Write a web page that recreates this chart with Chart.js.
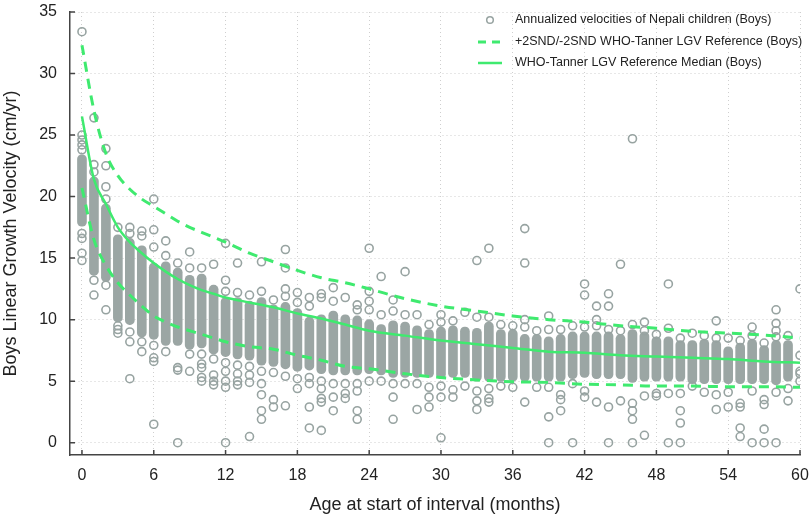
<!DOCTYPE html>
<html>
<head>
<meta charset="utf-8">
<script src="https://cdn.jsdelivr.net/npm/chart.js@4.4.1/dist/chart.umd.min.js"></script>
<style>
  html, body { margin: 0; padding: 0; background: #fff; }
  #wrap { width: 812px; height: 517px; }
</style>
</head>
<body>
<div id="wrap"><canvas id="growthChart"></canvas></div>
<script>
// DATA ---------------------------------------------------------------------
const months = [];
for (let m = 0; m <= 60; m++) months.push(m);

// dense part of each month's column (cm/yr)
const coreLow = [17.6, 13.6, 13.1, 9.8, 9.6, 8.6, 8.4, 7.9, 7.9, 7.6,
    7.7, 7.2, 7.0, 6.8, 6.7, 6.3, 6.2, 6.0, 5.8, 5.9,
    5.6, 5.5, 5.5, 5.5, 5.6, 5.5, 5.3, 5.3, 5.3, 5.3,
    5.2, 5.3, 5.3, 5.0, 5.0, 5.0, 5.0, 5.0, 5.0, 5.0,
    5.0, 5.2, 5.3, 5.2, 5.2, 5.2, 4.9, 5.0, 5.0, 5.0,
    5.0, 4.8, 4.8, 4.8, 4.8, 4.8, 4.8, 4.8, 4.7, 5.0, null];
const coreHigh = [23.4, 21.6, 19.4, 16.9, 16.6, 16.0, 14.6, 14.7, 14.2, 13.6,
    13.7, 12.8, 11.8, 11.8, 11.5, 11.8, 11.2, 11.4, 10.9, 10.2,
    10.4, 10.7, 10.4, 10.3, 10.0, 9.6, 9.9, 9.8, 9.5, 9.2,
    9.4, 9.5, 9.4, 9.3, 9.8, 9.2, 9.2, 8.8, 8.8, 8.6,
    8.8, 9.0, 9.0, 9.0, 9.0, 8.8, 9.2, 9.0, 8.6, 8.6,
    8.3, 8.3, 8.4, 8.3, 7.8, 8.1, 8.4, 7.9, 8.3, 8.3, null];

// single circles outside the dense part, one list per month
const outliers = [
    [33.4, 25.0, 24.6, 24.2, 23.8, 17.0, 16.6, 15.4, 14.8],
    [26.4, 22.6, 22.0, 13.2, 12.0],
    [23.9, 22.5, 20.8, 19.8, 12.8, 10.8],
    [17.5, 9.5, 9.2, 8.9],
    [17.5, 17.0, 9.0, 8.2, 5.2],
    [17.2, 16.8, 8.2, 7.4],
    [19.8, 17.3, 15.9, 7.9, 6.9, 6.6, 1.5],
    [16.4, 15.2, 7.4],
    [14.6, 6.1, 5.9, 0.0],
    [15.5, 14.2, 7.2, 5.8],
    [14.2, 7.2, 6.4, 6.1, 5.3, 5.0],
    [14.5, 6.8, 5.5, 5.0, 4.7],
    [16.2, 13.2, 12.3, 6.5, 5.8, 5.0, 4.5, 0.0],
    [14.6, 12.2, 6.3, 5.6, 5.0, 4.7],
    [12.0, 6.2, 5.5, 4.9, 0.5],
    [14.7, 12.3, 5.8, 4.8, 3.9, 2.6, 1.9],
    [11.6, 5.7, 3.5, 2.9],
    [15.7, 14.2, 12.5, 11.9, 5.4, 3.0],
    [12.2, 11.4, 5.2, 4.4],
    [11.8, 11.1, 5.3, 4.8, 2.9, 1.2],
    [12.1, 11.8, 5.0, 4.4, 3.6, 3.3, 1.0],
    [12.6, 11.5, 4.8, 3.7, 2.6],
    [11.8, 4.8, 4.0, 3.6],
    [11.2, 10.8, 4.8, 4.2, 2.6, 1.9],
    [15.8, 12.3, 11.5, 10.8, 5.0],
    [13.5, 10.4, 5.0],
    [11.6, 10.7, 4.8, 3.7, 1.9],
    [13.9, 10.4, 4.8],
    [10.4, 4.8, 2.7],
    [9.6, 4.5, 3.7, 2.9],
    [10.4, 9.8, 4.6, 3.7, 0.4],
    [9.9, 4.3, 3.7],
    [10.6, 4.6],
    [14.8, 10.2, 4.2, 3.4, 2.7],
    [15.8, 10.2, 4.4, 3.6, 3.3],
    [9.6, 4.6],
    [9.5, 4.5],
    [17.4, 14.6, 10.0, 9.4, 3.3],
    [9.1, 4.5],
    [10.3, 9.2, 4.5, 2.1, 0.0],
    [9.2, 3.9, 3.5, 2.6],
    [9.5, 4.8, 0.0],
    [12.9, 12.0, 9.4, 4.2, 3.7],
    [11.1, 10.0, 9.5, 3.3],
    [12.1, 11.1, 9.2, 2.9, 0.0],
    [14.5, 9.1, 3.4],
    [24.7, 9.6, 3.2, 2.6, 1.9, 0.0],
    [9.8, 9.1, 3.8, 0.6],
    [8.8, 4.0, 3.8],
    [12.9, 9.3, 4.0, 0.0],
    [8.5, 4.0, 2.6, 1.6, 0.0],
    [8.9, 4.6],
    [8.7, 4.1],
    [9.9, 8.5, 3.9, 2.7],
    [8.5, 4.1, 2.9],
    [8.3, 3.2, 2.9, 1.2, 0.5],
    [9.4, 8.7, 4.2, 0.0],
    [8.1, 3.5, 3.1, 1.1, 0.0],
    [10.8, 9.7, 9.1, 8.6, 4.1, 0.0],
    [8.7, 4.4, 3.4],
    [12.5, 7.1, 5.8, 5.6, 5.0]
];

// WHO-Tanner reference curves
const refMonths = [0, 1, 2, 3, 4, 5, 6, 7, 8, 9, 10, 11, 12, 14, 16, 18, 20, 22, 24, 27, 30, 33, 36, 39, 42, 45, 48, 51, 54, 57, 60];
const refMedian = [26.5, 21.4, 19.4, 17.5, 16.3, 15.4, 14.6, 13.9, 13.3, 12.8, 12.4, 12.1, 11.8, 11.4, 11.0, 10.5, 10.1, 9.6, 9.1, 8.7, 8.3, 8.0, 7.7, 7.4, 7.3, 7.1, 7.0, 6.9, 6.8, 6.6, 6.5];
const refUpper = [32.3, 27.0, 23.5, 21.7, 20.6, 19.8, 19.2, 18.6, 18.0, 17.5, 17.1, 16.7, 16.3, 15.4, 14.7, 14.0, 13.4, 13.0, 12.5, 11.7, 11.1, 10.7, 10.3, 10.0, 9.8, 9.5, 9.3, 9.05, 8.9, 8.75, 8.5];
const refLower = [20.7, 16.5, 14.4, 13.0, 12.0, 11.1, 10.3, 9.8, 9.4, 9.1, 8.8, 8.5, 8.2, 7.8, 7.6, 7.1, 6.7, 6.2, 6.0, 5.6, 5.3, 5.1, 4.95, 4.9, 4.75, 4.7, 4.6, 4.6, 4.55, 4.55, 4.5];

const legendLabels = [
    "Annualized velocities of Nepali children (Boys)",
    "+2SND/-2SND WHO-Tanner LGV Reference (Boys)",
    "WHO-Tanner LGV Reference Median (Boys)"
];

// STYLE --------------------------------------------------------------------
const green = '#3fea6f';
const grey = '#97a3a1';
const axisColor = '#444';
const fontFamily = "'Liberation Sans', Arial, sans-serif";

// build datasets from the arrays
const scatterPts = [];
outliers.forEach((vals, m) => vals.forEach(v => scatterPts.push({ x: months[m], y: v })));
const corePts = [];
months.forEach((m, i) => {
    if (coreLow[i] !== null) corePts.push({ x: m, y: [coreLow[i], coreHigh[i]] });
});
const toXY = arr => refMonths.map((m, i) => ({ x: m, y: arr[i] }));

// inward tick marks ---------------------------------------------------------
const inwardTicks = {
    id: 'inwardTicks',
    afterDraw(chart) {
        const { ctx, chartArea, scales: { x, y } } = chart;
        ctx.save();
        ctx.strokeStyle = axisColor;
        ctx.lineWidth = 1.5;
        ctx.beginPath();
        x.ticks.forEach(t => {
            const px = x.getPixelForValue(t.value);
            ctx.moveTo(px, chartArea.bottom);
            ctx.lineTo(px, chartArea.bottom - 5);
        });
        y.ticks.forEach(t => {
            const py = y.getPixelForValue(t.value);
            ctx.moveTo(chartArea.left, py);
            ctx.lineTo(chartArea.left + 5, py);
        });
        ctx.stroke();
        ctx.restore();
    }
};

// legend inside the plot, top right ------------------------------------------
const insideLegend = {
    id: 'insideLegend',
    afterDraw(chart) {
        const { ctx, chartArea } = chart;
        const symX = chartArea.right - 310;
        const textX = chartArea.right - 285;
        const rows = [chartArea.top + 8, chartArea.top + 30, chartArea.top + 51];
        ctx.save();
        // circle
        ctx.strokeStyle = grey;
        ctx.lineWidth = 1.5;
        ctx.beginPath();
        ctx.arc(symX, rows[0], 3.3, 0, Math.PI * 2);
        ctx.stroke();
        // dashed
        ctx.strokeStyle = green;
        ctx.lineWidth = 3;
        ctx.setLineDash([8, 6]);
        ctx.beginPath();
        ctx.moveTo(symX - 12, rows[1]);
        ctx.lineTo(symX + 12, rows[1]);
        ctx.stroke();
        // solid
        ctx.setLineDash([]);
        ctx.lineWidth = 2.5;
        ctx.beginPath();
        ctx.moveTo(symX - 12, rows[2]);
        ctx.lineTo(symX + 12, rows[2]);
        ctx.stroke();
        ctx.fillStyle = '#222';
        ctx.font = '12.5px ' + fontFamily;
        ctx.textBaseline = 'middle';
        legendLabels.forEach((txt, i) => ctx.fillText(txt, textX, rows[i]));
        ctx.restore();
    }
};

// CHART --------------------------------------------------------------------
const ctx = document.getElementById('growthChart').getContext('2d');
new Chart(ctx, {
    type: 'scatter',
    data: {
        datasets: [
            {
                type: 'line',
                label: 'median',
                data: toXY(refMedian),
                borderColor: green,
                borderWidth: 2.5,
                pointRadius: 0,
                cubicInterpolationMode: 'monotone',
                order: 0
            },
            {
                type: 'line',
                label: 'upper',
                data: toXY(refUpper),
                borderColor: green,
                borderWidth: 3,
                borderDash: [10, 7],
                pointRadius: 0,
                cubicInterpolationMode: 'monotone',
                order: 1
            },
            {
                type: 'line',
                label: 'lower',
                data: toXY(refLower),
                borderColor: green,
                borderWidth: 3,
                borderDash: [10, 7],
                pointRadius: 0,
                cubicInterpolationMode: 'monotone',
                order: 1
            },
            {
                label: 'velocities',
                data: scatterPts,
                pointRadius: 4,
                pointBorderWidth: 1.6,
                borderColor: grey,
                backgroundColor: 'rgba(0,0,0,0)',
                order: 2
            },
            {
                type: 'bar',
                label: 'core',
                data: corePts,
                backgroundColor: '#9ba6a4',
                barThickness: 9,
                borderRadius: 4.5,
                borderSkipped: false,
                order: 3
            }
        ]
    },
    options: {
        responsive: true,
        maintainAspectRatio: false,
        animation: false,
        layout: { padding: { left: 0, right: 12, top: 12, bottom: 0 } },
        plugins: {
            legend: { display: false },
            tooltip: { enabled: false }
        },
        scales: {
            x: {
                type: 'linear',
                min: -1,
                max: 60,
                offset: false,
                afterFit: s => { s.height = 62; },
                ticks: {
                    stepSize: 6,
                    includeBounds: false,
                    padding: 0,
                    color: '#222',
                    font: { family: fontFamily, size: 16 }
                },
                grid: {
                    color: '#cfcfcf', lineWidth: 1, offset: false,
                    drawTicks: true, tickLength: 11, tickColor: 'rgba(0,0,0,0)'
                },
                border: { display: true, color: axisColor, width: 1.5, dash: [1, 3] },
                title: {
                    display: true,
                    text: 'Age at start of interval (months)',
                    color: '#222',
                    font: { family: fontFamily, size: 18 },
                    padding: { top: 0, bottom: 1 }
                }
            },
            y: {
                type: 'linear',
                min: -1,
                max: 35,
                afterFit: s => { s.width = 70; },
                ticks: {
                    stepSize: 5,
                    includeBounds: false,
                    padding: 0,
                    color: '#222',
                    font: { family: fontFamily, size: 16 }
                },
                grid: {
                    color: '#cfcfcf', lineWidth: 1,
                    drawTicks: true, tickLength: 13, tickColor: 'rgba(0,0,0,0)'
                },
                border: { display: true, color: axisColor, width: 1.5, dash: [1, 3] },
                title: {
                    display: true,
                    text: 'Boys Linear Growth Velocity (cm/yr)',
                    color: '#222',
                    font: { family: fontFamily, size: 18 },
                    padding: { top: 0, bottom: 0 }
                }
            }
        }
    },
    plugins: [inwardTicks, insideLegend]
});
</script>
</body>
</html>
